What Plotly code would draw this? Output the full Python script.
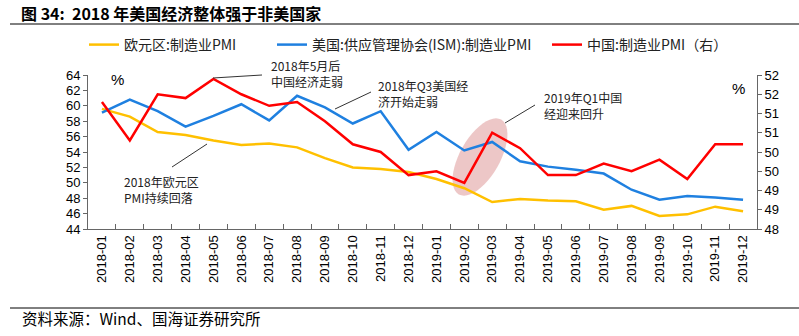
import math
import plotly.graph_objects as go

months = ["2018-01","2018-02","2018-03","2018-04","2018-05","2018-06","2018-07","2018-08",
          "2018-09","2018-10","2018-11","2018-12","2019-01","2019-02","2019-03","2019-04",
          "2019-05","2019-06","2019-07","2019-08","2019-09","2019-10","2019-11","2019-12"]
euro_pmi = [59.6,58.6,56.6,56.2,55.5,54.9,55.1,54.6,53.2,52.0,51.8,51.4,
            50.5,49.3,47.5,47.9,47.7,47.6,46.5,47.0,45.7,45.9,46.9,46.3]
us_ism = [59.1,60.8,59.3,57.3,58.7,60.2,58.1,61.3,59.8,57.7,59.3,54.3,
          56.6,54.2,55.3,52.8,52.1,51.7,51.2,49.1,47.8,48.3,48.1,47.8]
china_pmi = [51.3,50.3,51.5,51.4,51.9,51.5,51.2,51.3,50.8,50.2,50.0,49.4,
             49.5,49.2,50.5,50.1,49.4,49.4,49.7,49.5,49.8,49.3,50.2,50.2]
right_ticks = [48,48.5,49,49.5,50,50.5,51,51.5,52]
right_ticktext = ["48","49","49","50","50","51","51","52","52"]

W, H = 799, 336
L, R, T, B = 88, 757, 75, 229

def px(X): return (X - L) / (R - L)
def py(Y): return (B - Y) / (B - T)

fig = go.Figure()
fig.add_trace(go.Scatter(x=months, y=euro_pmi, name="欧元区:制造业PMI", mode="lines",
                         line=dict(color="#FFC000", width=2.5), legend="legend"))
fig.add_trace(go.Scatter(x=months, y=us_ism, name="美国:供应管理协会(ISM):制造业PMI", mode="lines",
                         line=dict(color="#1F80E0", width=2.5), legend="legend2"))
fig.add_trace(go.Scatter(x=months, y=china_pmi, name="中国:制造业PMI（右）", mode="lines",
                         line=dict(color="#FF0000", width=2.5), yaxis="y2", legend="legend3"))

def leg(xpix):
    return dict(orientation="h", x=px(xpix), y=1 - 45 / H, xref="paper", yref="container",
                xanchor="left", yanchor="middle",
                font=dict(family="Noto Sans CJK SC", size=14, color="#222"),
                itemwidth=30, bgcolor="rgba(0,0,0,0)")

axis_font = dict(family="Liberation Sans, Arial", size=13, color="#000")
fig.update_layout(
    width=W, height=H,
    margin=dict(l=L, r=W - R, t=T, b=H - B, autoexpand=False),
    paper_bgcolor="white", plot_bgcolor="white",
    showlegend=True,
    legend=leg(84), legend2=leg(272), legend3=leg(547),
    xaxis=dict(type="category", range=[-0.5, len(months) - 0.5], tickangle=-90,
               tickson="boundaries", ticks="inside",
               ticklen=5, tickcolor="#666", showline=True, linecolor="#666", linewidth=1,
               showgrid=False, tickfont=dict(family="Liberation Sans, Arial", size=13, color="#000")),
    yaxis=dict(range=[44, 64], dtick=2, showgrid=False, showline=True, linecolor="#666",
               ticks="outside", ticklen=4, tickcolor="#666", tickfont=axis_font, zeroline=False),
    yaxis2=dict(range=[48, 52], overlaying="y", side="right", tickvals=right_ticks,
                ticktext=right_ticktext, showgrid=False, showline=True, linecolor="#666",
                ticks="outside", ticklen=4, tickcolor="#666", tickfont=axis_font, zeroline=False),
)

# ellipse highlight
cx, cy = 480, 157
a, b = 43, 20
ang = math.atan2(-37, 21)
pts = []
for k in range(49):
    t = 2 * math.pi * k / 48
    X = cx + a * math.cos(t) * math.cos(ang) - b * math.sin(t) * math.sin(ang)
    Y = cy + a * math.cos(t) * math.sin(ang) + b * math.sin(t) * math.cos(ang)
    pts.append((px(X), py(Y)))
path = "M " + " L ".join(f"{x:.4f},{y:.4f}" for x, y in pts) + " Z"
fig.add_shape(type="path", path=path, xref="paper", yref="paper",
              fillcolor="rgba(215,130,130,0.45)", line=dict(width=0), layer="below")

# annotation leader lines
for (x0, y0, x1, y1) in [(213, 78, 262, 75), (335, 109, 371, 92),
                         (505, 123, 535, 105), (172, 167, 207, 144)]:
    fig.add_shape(type="line", xref="paper", yref="paper",
                  x0=px(x0), y0=py(y0), x1=px(x1), y1=py(y1),
                  line=dict(color="#333", width=1))

ann_font = dict(family="Noto Sans CJK SC", size=12, color="#222")
for (X, Y, txt) in [(269, 73, "2018年5月后<br>中国经济走弱"),
                    (376, 93, "2018年Q3美国经<br>济开始走弱"),
                    (542, 105, "2019年Q1中国<br>经迎来回升"),
                    (122, 189, "2018年欧元区<br>PMI持续回落")]:
    fig.add_annotation(x=px(X), y=py(Y), xref="paper", yref="paper", text=txt,
                       showarrow=False, xanchor="left", yanchor="middle", align="left",
                       font=ann_font)

# % labels
fig.add_annotation(x=px(117), y=py(79), xref="paper", yref="paper", text="%", showarrow=False,
                   xanchor="center", yanchor="middle",
                   font=dict(family="Liberation Sans, Arial", size=15, color="#000"))
fig.add_annotation(x=px(738), y=py(88), xref="paper", yref="paper", text="%", showarrow=False,
                   xanchor="center", yanchor="middle",
                   font=dict(family="Liberation Sans, Arial", size=15, color="#000"))

# title, source and separator lines
fig.add_annotation(x=px(19), y=py(13), xref="paper", yref="paper",
                   text="<b>图 34:  2018 年美国经济整体强于非美国家</b>",
                   showarrow=False, xanchor="left", yanchor="middle",
                   font=dict(family="Noto Sans CJK SC", size=16, color="#000"))
fig.add_annotation(x=px(20), y=py(318), xref="paper", yref="paper", text="资料来源：Wind、国海证券研究所",
                   showarrow=False, xanchor="left", yanchor="middle",
                   font=dict(family="Noto Sans CJK SC", size=15.5, color="#000"))
for Y in (24, 308):
    fig.add_shape(type="line", xref="paper", yref="paper", x0=px(10), x1=px(799),
                  y0=py(Y), y1=py(Y), line=dict(color="#000", width=1))

fig.write_html("out.html")
